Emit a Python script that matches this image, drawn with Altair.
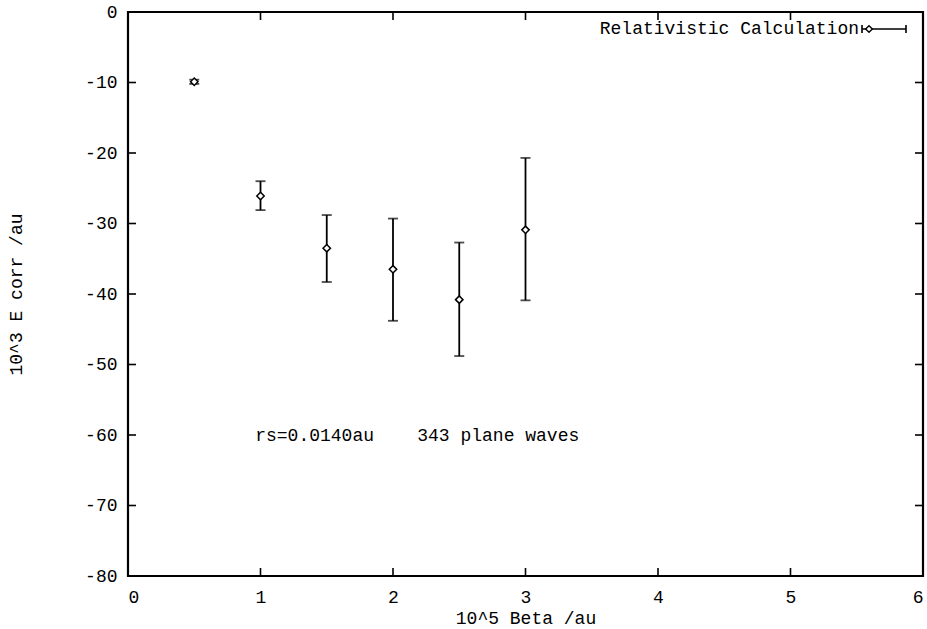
import altair as alt
import pandas as pd

# data
beta = [0.5, 1.0, 1.5, 2.0, 2.5, 3.0]
ecorr = [-9.9, -26.1, -33.5, -36.5, -40.8, -30.9]
err_lo = [-10.2, -28.1, -38.3, -43.8, -48.8, -40.9]
err_hi = [-9.6, -24.0, -28.8, -29.3, -32.7, -20.7]

x_ticks = [0, 1, 2, 3, 4, 5, 6]
y_ticks = [0, -10, -20, -30, -40, -50, -60, -70, -80]

note_text = ["rs=0.0140au\u00a0\u00a0\u00a0\u00a0343 plane waves"]
note_x = [0.96]
note_y = [-60.2]
legend_label = "Relativistic Calculation"

W, H = 795, 564
FONT = "Liberation Mono"
FS = 18

df = pd.DataFrame({"beta": beta, "ecorr": ecorr, "lo": err_lo, "hi": err_hi})
xt = pd.DataFrame({"v": x_ticks})
yt = pd.DataFrame({"v": y_ticks})
note = pd.DataFrame({"t": note_text, "x": note_x, "y": note_y})

xs = alt.Scale(domain=[0, 6], nice=False, zero=False)
ys = alt.Scale(domain=[-80, 0], nice=False, zero=False)

lab = "replace(datum.label, '\u2212', '-')"
xax = alt.Axis(values=x_ticks, format="d", labelExpr=lab, tickSize=0, domain=False, grid=False,
               labelFont=FONT, labelFontSize=FS, labelColor="black", labelPadding=12,
               title="10^5 Beta /au", titleFont=FONT, titleFontSize=FS,
               titleFontWeight="normal", titleColor="black", titleX=W / 2, titleY=42,
               titleAlign="center", titleBaseline="middle")
yax = alt.Axis(values=y_ticks, format="d", labelExpr=lab, tickSize=0, domain=False, grid=False,
               labelFont=FONT, labelFontSize=FS, labelColor="black", labelPadding=11,
               title="10^3 E corr /au", titleFont=FONT, titleFontSize=FS,
               titleFontWeight="normal", titleColor="black", titleX=-112, titleY=H / 2,
               titleAlign="center", titleBaseline="middle", titleAngle=270)

base = alt.Chart(df)

bars = base.mark_rule(color="black", strokeWidth=1.8).encode(
    x=alt.X("beta:Q", scale=xs, axis=xax),
    y=alt.Y("lo:Q", scale=ys, axis=yax),
    y2="hi:Q",
)
cap_lo = base.mark_tick(color="black", orient="horizontal", size=10, thickness=1.8).encode(
    x=alt.X("beta:Q", scale=xs), y=alt.Y("lo:Q", scale=ys))
cap_hi = base.mark_tick(color="black", orient="horizontal", size=10, thickness=1.8).encode(
    x=alt.X("beta:Q", scale=xs), y=alt.Y("hi:Q", scale=ys))
pts = base.mark_point(shape="diamond", filled=True, fill="white", stroke="black",
                      strokeWidth=1.5, size=55, opacity=1).encode(
    x=alt.X("beta:Q", scale=xs), y=alt.Y("ecorr:Q", scale=ys))

tl = 8
bt = alt.Chart(xt).mark_rule(color="black", strokeWidth=1.6).encode(
    x=alt.X("v:Q", scale=xs), y=alt.value(H), y2=alt.value(H - tl))
tt = alt.Chart(xt).mark_rule(color="black", strokeWidth=1.6).encode(
    x=alt.X("v:Q", scale=xs), y=alt.value(0), y2=alt.value(tl))
lt = alt.Chart(yt).mark_rule(color="black", strokeWidth=1.6).encode(
    y=alt.Y("v:Q", scale=ys), x=alt.value(0), x2=alt.value(tl))
rt = alt.Chart(yt).mark_rule(color="black", strokeWidth=1.6).encode(
    y=alt.Y("v:Q", scale=ys), x=alt.value(W), x2=alt.value(W - tl))

note_mark = alt.Chart(note).mark_text(font=FONT, fontSize=FS, align="left",
                                      baseline="middle", color="black").encode(
    x=alt.X("x:Q", scale=xs), y=alt.Y("y:Q", scale=ys), text="t:N")

leg_df = pd.DataFrame({"t": [legend_label]})
leg_text = alt.Chart(leg_df).mark_text(
    font=FONT, fontSize=FS, align="right", baseline="middle", color="black").encode(
    x=alt.value(731), y=alt.value(17), text="t:N")
leg_line = alt.Chart(leg_df).mark_rule(
    color="black", strokeWidth=1.6).encode(x=alt.value(734), x2=alt.value(778), y=alt.value(17))
leg_caps = alt.Chart(pd.DataFrame({"px": [734, 778]})).mark_rule(
    color="black", strokeWidth=1.6).encode(x=alt.X("px:Q", scale=None), y=alt.value(13), y2=alt.value(21))
leg_pt = alt.Chart(leg_df).mark_point(
    shape="diamond", filled=True, fill="white", stroke="black", strokeWidth=1.4,
    size=45, opacity=1).encode(x=alt.value(741), y=alt.value(17))

chart = alt.layer(bars, cap_lo, cap_hi, pts, bt, tt, lt, rt, note_mark,
                  leg_text, leg_line, leg_caps, leg_pt).properties(
    width=W, height=H,
    autosize=alt.AutoSizeParams(type="none"),
    padding={"left": 128, "top": 12, "right": 4, "bottom": 53},
    background="white",
).configure_view(stroke="black", strokeWidth=2.2)

chart.save("out.html", embed_options={"renderer": "svg", "actions": False})
